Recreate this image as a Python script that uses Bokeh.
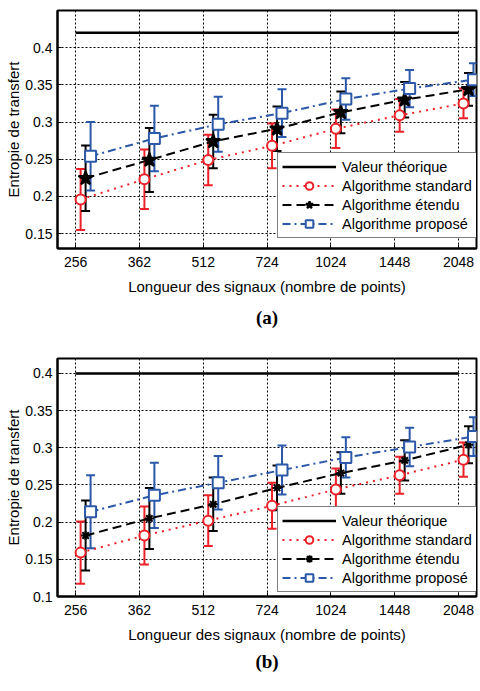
from bokeh.plotting import figure
from bokeh.models import (Range1d, FixedTicker, NumeralTickFormatter, Whisker, TeeHead,
                          ColumnDataSource, Legend, LegendItem, Title)
from bokeh.layouts import column
from bokeh.embed import file_html
from bokeh.resources import INLINE

# ---------------- data ----------------
lengths = [256, 362, 512, 724, 1024, 1448, 2048]
x_tick_labels = ["256", "362", "512", "724", "1024", "1448", "2048"]
legend_labels = ["Valeur théorique", "Algorithme standard", "Algorithme étendu", "Algorithme proposé"]

# panel (a)
yticks_a = [0.15, 0.2, 0.25, 0.3, 0.35, 0.4]
theo_a = 0.42
std_a = [0.196, 0.223, 0.249, 0.268, 0.291, 0.309, 0.325]
std_a_err = [0.041, 0.040, 0.034, 0.030, 0.026, 0.022, 0.020]
ext_a = [0.2245, 0.249, 0.274, 0.291, 0.313, 0.330, 0.344]
ext_a_err = [0.044, 0.043, 0.036, 0.030, 0.028, 0.024, 0.022]
prop_a = [0.254, 0.278, 0.297, 0.312, 0.331, 0.345, 0.357]
prop_a_err = [0.046, 0.044, 0.037, 0.032, 0.028, 0.025, 0.022]

# panel (b)
yticks_b = [0.1, 0.15, 0.2, 0.25, 0.3, 0.35, 0.4]
theo_b = 0.40
std_b = [0.159, 0.182, 0.202, 0.222, 0.244, 0.263, 0.284]
std_b_err = [0.042, 0.039, 0.034, 0.031, 0.028, 0.025, 0.023]
ext_b = [0.182, 0.205, 0.224, 0.246, 0.266, 0.283, 0.304]
ext_b_err = [0.047, 0.041, 0.036, 0.030, 0.028, 0.027, 0.025]
prop_b = [0.214, 0.236, 0.253, 0.270, 0.287, 0.301, 0.315]
prop_b_err = [0.049, 0.044, 0.036, 0.033, 0.027, 0.026, 0.026]

RED = "#EC2027"
BLUE = "#2B58A8"
FONT = "Liberation Sans"

# small horizontal shift of each series around the nominal length (in octaves)
shift_std, shift_ext, shift_prop = 5 / 128, 10 / 128, 15 / 128


def shifted(vals, octaves):
    return [v * 2 ** octaves for v in vals]


def panel(tag, y_lo, y_hi, yticks, theo, std, std_err, ext, ext_err, prop, prop_err,
          ext_marker, ext_size, legend_y, height, b_top, b_bottom, t_standoff):
    p = figure(width=478, height=height, x_axis_type="log",
               x_range=Range1d(232, 2258), y_range=Range1d(y_lo, y_hi),
               output_backend="svg", toolbar_location=None,
               min_border_left=57, min_border_right=2,
               min_border_top=b_top, min_border_bottom=b_bottom)
    p.background_fill_color = "white"
    p.border_fill_color = "white"
    p.outline_line_color = "black"
    p.outline_line_width = 2

    # axes
    p.xaxis.ticker = FixedTicker(ticks=lengths)
    p.xaxis.major_label_overrides = {v: s for v, s in zip(lengths, x_tick_labels)}
    p.yaxis.ticker = FixedTicker(ticks=yticks)
    p.yaxis.formatter = NumeralTickFormatter(format="0.[00]")
    for ax in (p.xaxis, p.yaxis):
        ax.axis_line_color = "black"
        ax.axis_line_width = 2
        ax.major_tick_in = 4
        ax.major_tick_out = 0
        ax.major_tick_line_color = "black"
        ax.minor_tick_line_color = None
        ax.major_label_text_font = FONT
        ax.major_label_text_font_size = "14px"
        ax.major_label_text_color = "black"
        ax.axis_label_text_font = FONT
        ax.axis_label_text_font_size = "15px"
        ax.axis_label_text_font_style = "normal"
        ax.axis_label_text_color = "black"
    p.xaxis.major_label_standoff = 8
    p.xaxis.axis_label_standoff = 8
    p.yaxis.major_label_standoff = 5
    p.yaxis.axis_label_standoff = 0
    p.xaxis.axis_label = "Longueur des signaux (nombre de points)"
    p.yaxis.axis_label = "Entropie de transfert"

    for g in (p.xgrid, p.ygrid):
        g.grid_line_color = "black"
        g.grid_line_width = 1
        g.grid_line_dash = "2 2"
        g.grid_line_alpha = 1

    # theoretical value
    r_theo = p.line([lengths[0], lengths[-1]], [theo, theo], line_color="black", line_width=2.5)

    items = [LegendItem(label=legend_labels[0], renderers=[r_theo])]
    specs = [
        (std, std_err, shift_std, RED, "2 5", "circle", 10, "white"),
        (ext, ext_err, shift_ext, "black", "9 5", ext_marker, ext_size, "black"),
        (prop, prop_err, shift_prop, BLUE, "8 4 2 4", "square", 11, "white"),
    ]
    for k, (vals, errs, sh, col, dash, mk, sz, fill) in enumerate(specs):
        xs = shifted(lengths, sh)
        src = ColumnDataSource(dict(x=xs, y=vals,
                                    lo=[v - e for v, e in zip(vals, errs)],
                                    hi=[v + e for v, e in zip(vals, errs)]))
        rl = p.line("x", "y", source=src, line_color=col, line_width=2, line_dash=dash)
        w = Whisker(base="x", lower="lo", upper="hi", source=src,
                    line_color=col, line_width=2,
                    upper_head=TeeHead(size=9, line_color=col, line_width=2),
                    lower_head=TeeHead(size=9, line_color=col, line_width=2))
        p.add_layout(w)
        rs = p.scatter("x", "y", source=src, marker=mk, size=sz, line_color=col,
                       fill_color=fill, line_width=2)
        items.append(LegendItem(label=legend_labels[k + 1], renderers=[rl, rs]))

    legend = Legend(items=items, location=(220, legend_y), padding=4, margin=0, spacing=0,
                    glyph_width=54, glyph_height=19, label_height=19, label_standoff=6,
                    label_text_font=FONT, label_text_font_size="14.5px",
                    label_text_color="black",
                    border_line_color="black", border_line_width=1.5,
                    background_fill_color="white", background_fill_alpha=1)
    p.add_layout(legend)

    t = Title(text=tag, text_font="Liberation Serif", text_font_style="bold",
              text_font_size="19px", align="center", offset=-10, standoff=t_standoff,
              text_color="black")
    p.add_layout(t, "below")
    return p


pa = panel("(a)", 0.13, 0.45, yticks_a, theo_a, std_a, std_a_err, ext_a, ext_a_err,
           prop_a, prop_a_err, "star", 15, 10, 348, 10, 100, 14)
pb = panel("(b)", 0.10, 0.42, yticks_b, theo_b, std_b, std_b_err, ext_b, ext_b_err,
           prop_b, prop_b_err, "asterisk", 9, 4, 329, 10, 81, 6)

layout = column(pa, pb, spacing=0)
open("out.html", "w").write(file_html(layout, INLINE))
